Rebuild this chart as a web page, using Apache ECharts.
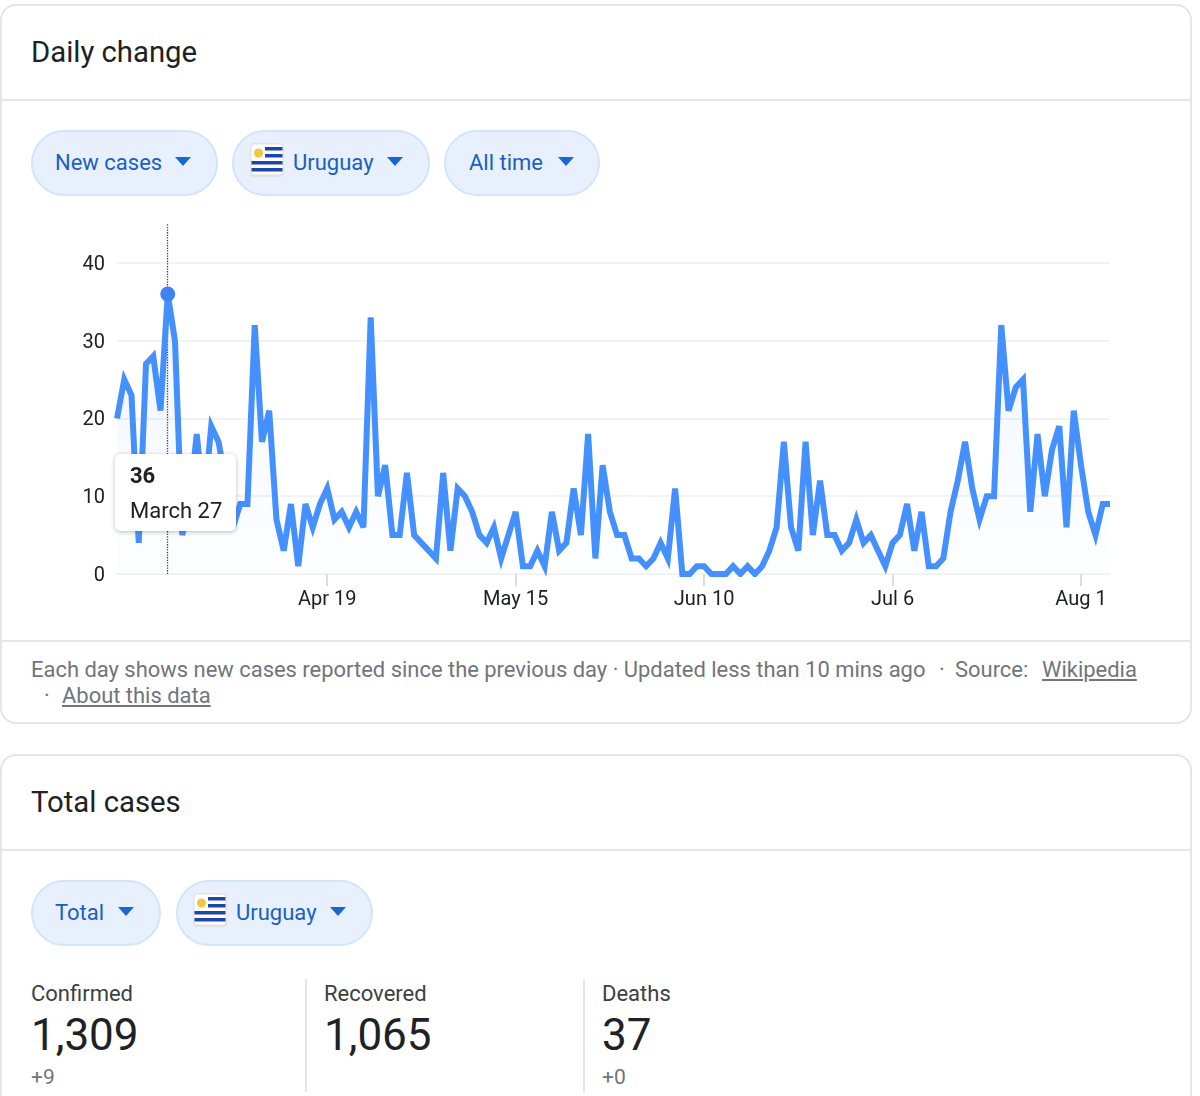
<!DOCTYPE html>
<html>
<head>
<meta charset="utf-8">
<title>Daily change</title>
<script src="https://cdn.jsdelivr.net/npm/echarts@6/dist/echarts.min.js"></script>
<style>
html, body { margin: 0; padding: 0; background: #fff; }
body { position: relative; width: 1200px; height: 1096px; overflow: hidden; font-family: Roboto, sans-serif; color: #202124; }
.card { position: absolute; left: 0; width: 1192px; border: 2px solid #e3e5e8; border-radius: 16px; box-sizing: border-box; }
.rule { position: absolute; left: 1px; width: 1191px; height: 2px; background: #e3e5e8; }
.abs { position: absolute; white-space: nowrap; line-height: 1; }
.title { font-size: 29.3px; color: #202124; }
.chip { position: absolute; top: 0; height: 66px; box-sizing: border-box; background: #e8f0fe; border: 2px solid #d2e3fc; border-radius: 33px; }
.chip span { position: absolute; top: 18px; font-size: 22px; line-height: 26px; color: #1a5fc4; white-space: nowrap; }
.chip i { position: absolute; top: 25px; width: 0; height: 0; border-left: 8px solid transparent; border-right: 8px solid transparent; border-top: 9px solid #1967d2; }
.chip svg { position: absolute; top: 11px; }
.foot { font-size: 21.95px; color: #70757a; }
.foot u { color: #70757a; }
.lab { font-size: 22px; color: #3c4043; }
.num { font-size: 44px; color: #202124; }
.delta { font-size: 21px; color: #70757a; }
.sep { position: absolute; top: 979px; width: 2px; height: 113px; background: #e3e5e8; }
#chart { position: absolute; left: 0; top: 200px; width: 1200px; height: 420px; }
</style>
</head>
<body>
<svg width="0" height="0" style="position:absolute">
  <symbol id="uy" viewBox="0 0 34 34">
    <rect width="34" height="34" rx="4" fill="#e2e2e2"/>
    <rect x="1.5" y="1.5" width="31" height="30" rx="3" fill="#fff"/>
    <rect x="15" y="4" width="17.5" height="3.5" fill="#1c47a8"/>
    <rect x="15" y="11" width="17.5" height="3.5" fill="#1c47a8"/>
    <rect x="1.5" y="18" width="31" height="3.5" fill="#1c47a8"/>
    <rect x="1.5" y="25" width="31" height="3.5" fill="#1c47a8"/>
    <circle cx="8.5" cy="10" r="4.5" fill="#f4c542"/>
  </symbol>
</svg>

<div class="card" style="top:4px;height:720px"></div>
<div class="abs title" style="left:31px;top:38px">Daily change</div>
<div class="rule" style="top:99px"></div>

<div style="position:absolute;left:0;top:130px;width:1200px;height:66px">
  <div class="chip" style="left:31px;width:187px"><span style="left:22px">New cases</span><i style="left:142px"></i></div>
  <div class="chip" style="left:232px;width:198px"><svg width="34" height="34" style="left:16px"><use href="#uy"/></svg><span style="left:59px">Uruguay</span><i style="left:153px"></i></div>
  <div class="chip" style="left:444px;width:156px"><span style="left:23px">All time</span><i style="left:112px"></i></div>
</div>

<div id="chart"></div>

<div class="rule" style="top:640px"></div>
<div class="abs foot" style="left:31px;top:659px">Each day shows new cases reported since the previous day · Updated less than 10 mins ago</div>
<div class="abs foot" style="left:939px;top:659px">·</div>
<div class="abs foot" style="left:955px;top:659px">Source:</div>
<div class="abs foot" style="left:1042px;top:659px"><u>Wikipedia</u></div>
<div class="abs foot" style="left:44px;top:685px">·</div>
<div class="abs foot" style="left:62px;top:685px"><u>About this data</u></div>

<div class="card" style="top:754px;height:400px"></div>
<div class="abs title" style="left:31px;top:788px">Total cases</div>
<div class="rule" style="top:849px"></div>

<div style="position:absolute;left:0;top:880px;width:1200px;height:66px">
  <div class="chip" style="left:31px;width:130px"><span style="left:22px">Total</span><i style="left:85px"></i></div>
  <div class="chip" style="left:176px;width:197px"><svg width="34" height="34" style="left:15px"><use href="#uy"/></svg><span style="left:58px">Uruguay</span><i style="left:152px"></i></div>
</div>

<div class="abs lab" style="left:31px;top:983px">Confirmed</div>
<div class="abs num" style="left:31px;top:1013px">1,309</div>
<div class="abs delta" style="left:31px;top:1067px">+9</div>
<div class="sep" style="left:305px"></div>
<div class="abs lab" style="left:324px;top:983px">Recovered</div>
<div class="abs num" style="left:324px;top:1013px">1,065</div>
<div class="sep" style="left:583px"></div>
<div class="abs lab" style="left:602px;top:983px">Deaths</div>
<div class="abs num" style="left:602px;top:1013px">37</div>
<div class="abs delta" style="left:602px;top:1067px">+0</div>

<script>
// Days on the x axis, month by month (March 28 is missing in the source)
var marchDays = [20, 21, 22, 23, 24, 25, 26, 27, 29, 30, 31];
var monthNames = ['April', 'May', 'June', 'July', 'August'];
var monthLengths = [30, 31, 30, 31, 5];

var newCases = [
    20, 25, 23, 4, 27, 28, 21, 36, 30, 5,
    9, 18, 9, 19, 17, 12, 6, 9, 9, 32,
    17, 21, 7, 3, 9, 1, 9, 6, 9, 11,
    7, 8, 6, 8, 6, 33, 10, 14, 5, 5,
    13, 5, 4, 3, 2, 13, 3, 11, 10, 8,
    5, 4, 6, 2, 5, 8, 1, 1, 3, 1,
    8, 3, 4, 11, 5, 18, 2, 14, 8, 5,
    5, 2, 2, 1, 2, 4, 2, 11, 0, 0,
    1, 1, 0, 0, 0, 1, 0, 1, 0, 1,
    3, 6, 17, 6, 3, 17, 5, 12, 5, 5,
    3, 4, 7, 4, 5, 3, 1, 4, 5, 9,
    3, 8, 1, 1, 2, 8, 12, 17, 11, 7,
    10, 10, 32, 21, 24, 25, 8, 18, 10, 16,
    19, 6, 21, 14, 8, 5, 9, 9
];

var tickDays = ['April 19', 'May 15', 'June 10', 'July 6', 'August 1'];
var tickLabels = ['Apr 19', 'May 15', 'Jun 10', 'Jul 6', 'Aug 1'];
var selectedIndex = 7;

var categories = marchDays.map(function (d) { return 'March ' + d; });
monthNames.forEach(function (name, m) {
    for (var d = 1; d <= monthLengths[m]; d++) {
        categories.push(name + ' ' + d);
    }
});

function isTick(index, value) {
    return tickDays.indexOf(value) !== -1;
}

var myChart = echarts.init(document.getElementById('chart'), null, { renderer: 'canvas' });

myChart.setOption({
    animation: false,
    grid: { left: 117, top: 24, width: 993, height: 350 },
    tooltip: {
        trigger: 'axis',
        alwaysShowContent: true,
        transitionDuration: 0,
        position: [115, 254],
        padding: 0,
        borderWidth: 0,
        backgroundColor: '#fff',
        extraCssText: 'width:121px;height:77px;border-radius:5px;box-shadow:0 1px 4px rgba(60,64,67,.35);box-sizing:border-box;padding:9px 0 0 15px;',
        axisPointer: {
            type: 'line',
            z: 1,
            lineStyle: { type: 'dotted', color: '#3c4043', width: 1.3 }
        },
        formatter: function (params) {
            return '<div style="font:700 22px/26px Roboto;color:#202124">' + params[0].value + '</div>' +
                '<div style="font:22px/26px Roboto;color:#202124;margin-top:9px">' + params[0].name + '</div>';
        }
    },
    xAxis: {
        type: 'category',
        data: categories,
        boundaryGap: false,
        axisLine: { show: true, lineStyle: { color: '#f1f3f4', width: 2 } },
        axisTick: { show: true, interval: isTick, length: 12, lineStyle: { color: '#dadce0', width: 2 } },
        axisLabel: {
            interval: isTick,
            margin: 16,
            fontFamily: 'Roboto',
            fontSize: 20,
            color: '#202124',
            formatter: function (value) {
                return tickLabels[tickDays.indexOf(value)];
            }
        },
        splitLine: { show: false }
    },
    yAxis: {
        type: 'value',
        min: 0,
        max: 45,
        interval: 10,
        axisLine: { show: false },
        axisTick: { show: false },
        axisLabel: {
            margin: 12,
            verticalAlign: 'top',
            lineHeight: 4,
            showMaxLabel: false,
            fontFamily: 'Roboto',
            fontSize: 20,
            color: '#202124'
        },
        splitLine: { show: true, showMaxLine: false, lineStyle: { color: '#f1f3f4', width: 2 } }
    },
    series: [
        {
            type: 'line',
            data: newCases,
            showSymbol: false,
            symbol: 'circle',
            symbolSize: 15,
            z: 3,
            itemStyle: { color: '#3f83f2' },
            lineStyle: { color: '#3f83f2', width: 6, join: 'miter', miterLimit: 4, cap: 'butt' },
            areaStyle: {
                color: new echarts.graphic.LinearGradient(0, 0, 0, 1, [
                    { offset: 0, color: 'rgba(66,133,244,0.12)' },
                    { offset: 1, color: 'rgba(66,133,244,0.01)' }
                ])
            },
            emphasis: { scale: false, lineStyle: { width: 6 } }
        }
    ]
});

myChart.dispatchAction({ type: 'showTip', seriesIndex: 0, dataIndex: selectedIndex });
</script>
</body>
</html>
